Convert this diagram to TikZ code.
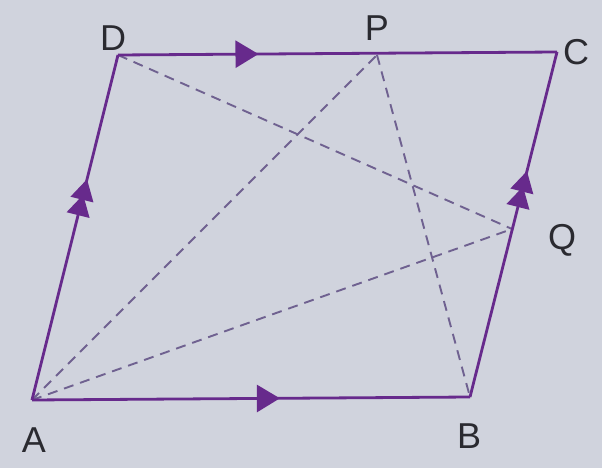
\documentclass[tikz,border=0pt]{standalone}
\usepackage{fontspec}
\setmainfont{Liberation Sans}
\usetikzlibrary{arrows.meta,decorations.markings}
\definecolor{paper}{HTML}{D0D3DD}
\definecolor{vio}{HTML}{672A8C}
\definecolor{dash}{HTML}{6F6190}
\definecolor{ink}{HTML}{2A2A30}
\tikzset{
  side/.style={draw=vio, line width=2.8pt},
  diag/.style={draw=dash, line width=1.9pt, dash pattern=on 10pt off 7pt},
  lbl/.style={text=ink, font=\fontsize{36}{38}\selectfont, inner sep=0pt},
  onearrow/.style={postaction={decorate}, decoration={markings,
     mark=at position #1 with {\arrow{Triangle[length=23pt,width=27pt]}}}},
  twoarrow/.style 2 args={postaction={decorate}, decoration={markings,
     mark=at position #1 with {\arrow{Triangle[length=21pt,width=23pt]}},
     mark=at position #2 with {\arrow{Triangle[length=21pt,width=23pt]}}}}
}
\begin{document}
\begin{tikzpicture}[x=1pt,y=-1pt,vio]
\fill[paper] (0,0) rectangle (602,468);
\useasboundingbox (0,0) rectangle (602,468);
\coordinate (A) at (32,400);
\coordinate (B) at (470,397);
\coordinate (C) at (557,52);
\coordinate (D) at (118,55);
\coordinate (P) at (377,55);
\coordinate (Q) at (512,229);
% dashed diagonals
\draw[diag] (D) -- (Q);
\draw[diag] (A) -- (Q);
\draw[diag] (A) -- (P);
\draw[diag] (P) -- (B);
% sides
\draw[side, onearrow=0.566] (A) -- (B);
\draw[side, onearrow=0.32] (D) -- (C);
\draw[side, twoarrow={0.595}{0.64}] (A) -- (D);
\draw[side, twoarrow={0.61}{0.655}] (B) -- (C);
% labels
\node[lbl] (lA) at (34,440) {A};
\node[lbl] (lB) at (469,436) {B};
\node[lbl] (lC) at (576,52) {C};
\node[lbl] (lD) at (113,38) {D};
\node[lbl] (lP) at (377,28) {P};
\node[lbl] (lQ) at (562,240) {Q};
\end{tikzpicture}
\end{document}
